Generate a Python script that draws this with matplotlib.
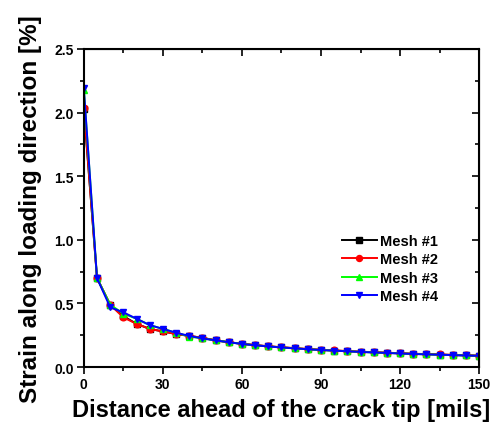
import matplotlib
matplotlib.use('Agg')
import matplotlib.pyplot as plt
from matplotlib.ticker import MultipleLocator, FormatStrFormatter

plt.rcParams['font.family'] = ['Liberation Sans', 'DejaVu Sans']
plt.rcParams['font.weight'] = 'bold'

# distance ahead of the crack tip [mils]
distance = list(range(0, 155, 5))

# strain along loading direction [%]
mesh1 = [2.03, 0.70, 0.49, 0.40, 0.34, 0.30, 0.28, 0.26, 0.245, 0.23, 0.21, 0.195,
         0.183, 0.172, 0.163, 0.155, 0.148, 0.141, 0.135, 0.130, 0.125, 0.120, 0.116,
         0.112, 0.108, 0.104, 0.101, 0.098, 0.095, 0.092, 0.089]
mesh2 = [2.04, 0.70, 0.49, 0.39, 0.34, 0.30, 0.28, 0.26, 0.245, 0.23, 0.21, 0.195,
         0.184, 0.173, 0.164, 0.156, 0.149, 0.142, 0.136, 0.131, 0.126, 0.121, 0.117,
         0.113, 0.109, 0.105, 0.102, 0.099, 0.096, 0.093, 0.090]
mesh3 = [2.18, 0.70, 0.49, 0.42, 0.38, 0.33, 0.30, 0.27, 0.24, 0.225, 0.21, 0.195,
         0.182, 0.171, 0.162, 0.154, 0.147, 0.140, 0.134, 0.129, 0.124, 0.119, 0.115,
         0.111, 0.107, 0.103, 0.100, 0.097, 0.094, 0.091, 0.088]
mesh4 = [2.19, 0.70, 0.47, 0.43, 0.38, 0.33, 0.30, 0.27, 0.245, 0.225, 0.21, 0.195,
         0.182, 0.171, 0.162, 0.154, 0.147, 0.140, 0.134, 0.129, 0.124, 0.119, 0.115,
         0.111, 0.107, 0.103, 0.100, 0.097, 0.094, 0.091, 0.088]

labels = ["Mesh #1", "Mesh #2", "Mesh #3", "Mesh #4"]
colors = ["#000000", "#ff0000", "#00ff00", "#0000ff"]
markers = ["s", "o", "^", "v"]

fig = plt.figure(figsize=(4.96, 4.31), dpi=100)
ax = fig.add_axes([0.169, 0.146, 0.797, 0.738])

for ys, lab, c, m in zip([mesh1, mesh2, mesh3, mesh4], labels, colors, markers):
    ax.plot(distance, ys, color=c, marker=m, markersize=4.8, linewidth=1.4, label=lab)

ax.set_xlim(0, 150)
ax.set_ylim(0, 2.5)
ax.xaxis.set_major_locator(MultipleLocator(30))
ax.xaxis.set_minor_locator(MultipleLocator(15))
ax.yaxis.set_major_locator(MultipleLocator(0.5))
ax.yaxis.set_minor_locator(MultipleLocator(0.25))
ax.yaxis.set_major_formatter(FormatStrFormatter('%.1f'))

for side in ax.spines.values():
    side.set_linewidth(1.5)
ax.tick_params(which='both', direction='out', top=False, right=False, width=1.2)
ax.tick_params(which='major', length=5, labelsize=10, pad=2)
ax.tick_params(which='minor', length=3)

# inward ticks on top and right
ax2 = ax.secondary_xaxis('top')
ax2.xaxis.set_major_locator(MultipleLocator(30))
ax2.xaxis.set_minor_locator(MultipleLocator(15))
ax2.tick_params(which='both', direction='in', labeltop=False, width=1.2)
ax2.tick_params(which='major', length=5)
ax2.tick_params(which='minor', length=3)
ax3 = ax.secondary_yaxis('right')
ax3.yaxis.set_major_locator(MultipleLocator(0.5))
ax3.yaxis.set_minor_locator(MultipleLocator(0.25))
ax3.tick_params(which='both', direction='in', labelright=False, width=1.2)
ax3.tick_params(which='major', length=5)
ax3.tick_params(which='minor', length=3)

ax.set_xlabel("Distance ahead of the crack tip [mils]", fontsize=17, fontweight='bold', labelpad=5)
ax.set_ylabel("Strain along loading direction [%]", fontsize=17.5, fontweight='bold', labelpad=9)

ax.legend(loc='center left', bbox_to_anchor=(0.653, 0.31), frameon=False,
          fontsize=10.5, handlelength=2.4, labelspacing=0.3, handletextpad=0.2,
          borderpad=0, borderaxespad=0, markerscale=0.9)

fig.savefig("out.png", dpi=100)
